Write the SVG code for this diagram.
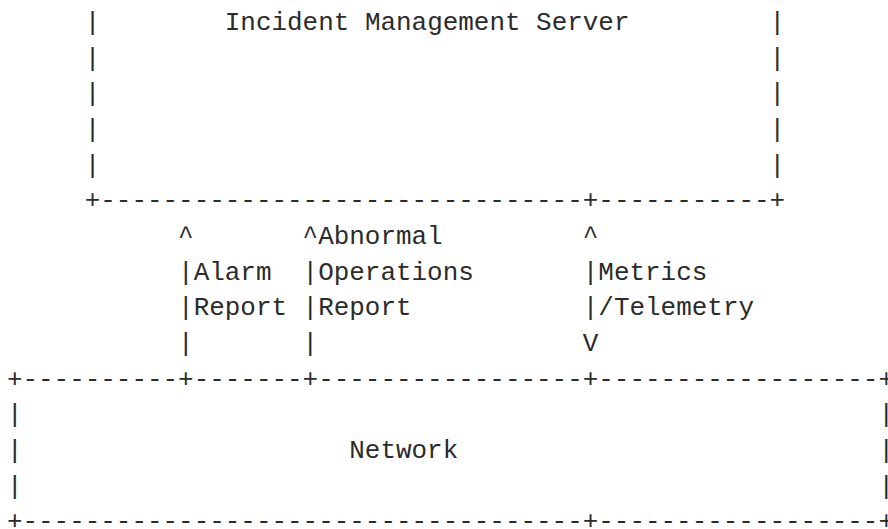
<svg xmlns="http://www.w3.org/2000/svg" width="888" height="529" viewBox="0 0 888 529">
  <style>
    text { font-family: "Liberation Mono", "DejaVu Sans Mono", monospace; font-size: 25.94px; fill: #2b2b2b; white-space: pre; }
  </style>
  <rect width="888" height="529" fill="#ffffff"/>
  <!-- character grid: column c starts at x = 6.9 + c*15.564, row r baseline at y = 30 + r*35.67 -->

  <g id="incident-management-server">
    <text x="84.7" y="30">|</text>
    <text x="224.8" y="30">Incident Management Server</text>
    <text x="769.5" y="30">|</text>
    <text x="84.7" y="65.7">|</text>
    <text x="769.5" y="65.7">|</text>
    <text x="84.7" y="101.3">|</text>
    <text x="769.5" y="101.3">|</text>
    <text x="84.7" y="137">|</text>
    <text x="769.5" y="137">|</text>
    <text x="84.7" y="172.7">|</text>
    <text x="769.5" y="172.7">|</text>
    <text x="84.7" y="208.4" textLength="700.4" lengthAdjust="spacing">+-------------------------------+-----------+</text>
  </g>

  <g id="connectors">
    <!-- Alarm Report -->
    <text x="178.1" y="244">^</text>
    <text x="178.1" y="279.7">|Alarm</text>
    <text x="178.1" y="315.4">|Report</text>
    <text x="178.1" y="351">|</text>
    <!-- Abnormal Operations Report -->
    <text x="302.6" y="244">^Abnormal</text>
    <text x="302.6" y="279.7">|Operations</text>
    <text x="302.6" y="315.4">|Report</text>
    <text x="302.6" y="351">|</text>
    <!-- Metrics / Telemetry -->
    <text x="582.8" y="244">^</text>
    <text x="582.8" y="279.7">|Metrics</text>
    <text x="582.8" y="315.4">|/Telemetry</text>
    <text x="582.8" y="351">V</text>
  </g>

  <g id="network">
    <text x="6.9" y="386.7" textLength="887.1" lengthAdjust="spacing">+----------+-------+-----------------+------------------+</text>
    <text x="6.9" y="422.4">|</text>
    <text x="878.5" y="422.4">|</text>
    <text x="6.9" y="458">|</text>
    <text x="349.3" y="458">Network</text>
    <text x="878.5" y="458">|</text>
    <text x="6.9" y="493.7">|</text>
    <text x="878.5" y="493.7">|</text>
    <text x="6.9" y="529.4" textLength="887.1" lengthAdjust="spacing">+------------------------------------+------------------+</text>
  </g>
</svg>
